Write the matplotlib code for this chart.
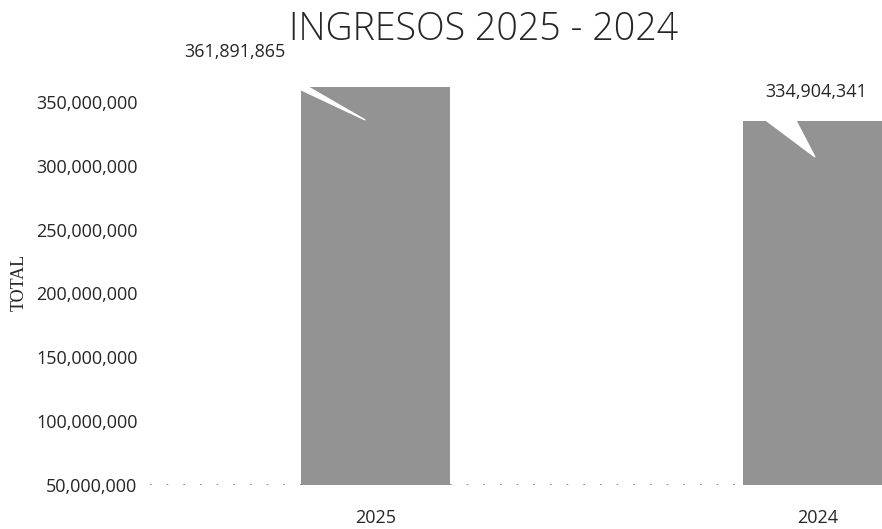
import matplotlib
matplotlib.use("Agg")
import matplotlib.pyplot as plt
from matplotlib.ticker import FuncFormatter

# data
years = ["2025", "2024"]
totals = [361891865, 334904341]
y_ticks = [50000000, 100000000, 150000000, 200000000, 250000000, 300000000, 350000000]

plt.rcParams['font.family'] = ['Open Sans', 'DejaVu Sans']
text_col = "#262626"
bar_col = "#939393"

fig = plt.figure(figsize=(8.82, 5.29), dpi=100)
ax = fig.add_axes([0.17, 0.083, 0.83, 0.766])

x = list(range(len(years)))
ax.bar(x, totals, width=0.337, color=bar_col, zorder=2)

ax.set_xlim(-0.511, 1.145)
ax.set_ylim(50000000, 367100000)
ax.set_yticks(y_ticks)
ax.yaxis.set_major_formatter(FuncFormatter(lambda v, p: f"{v:,.0f}"))
ax.set_xticks(x)
ax.set_xticklabels(years)
ax.tick_params(axis="y", length=0, pad=9, labelsize=13, labelcolor=text_col)
ax.tick_params(axis="x", length=0, pad=17, labelsize=13, labelcolor=text_col)

for s in ax.spines.values():
    s.set_visible(False)
# dotted baseline
ax.axhline(y_ticks[0], color="#777777", lw=1.2, ls=(0, (1, 9)), zorder=1)

ax.set_ylabel("TOTAL", family="Liberation Serif", fontsize=13, color=text_col, labelpad=6)

# data labels
label_pos = [(-0.319, 27.2e6), (0.995, 22.9e6)]
for i, v in enumerate(totals):
    dx, dy = label_pos[i]
    ax.text(dx, v + dy, f"{v:,}", ha="center", va="center", fontsize=13,
            color=text_col, clip_on=False, zorder=4)

# white leader wedges of the callouts (tail, tip, tail width)
wedges = [((-0.319, 27.2e6), (-0.025, -26e6), 0.45),
          ((0.868, 22.9e6), (0.993, -28e6), 1.4)]
for i, v in enumerate(totals):
    (ax0, ay0), (ax1, ay1), tw = wedges[i]
    ax.annotate("", xy=(ax1, v + ay1), xytext=(ax0, v + ay0),
                annotation_clip=False, zorder=3,
                arrowprops=dict(arrowstyle=f"wedge,tail_width={tw},shrink_factor=0.5",
                                color="white", shrinkA=0, shrinkB=0,
                                mutation_scale=20))

fig.text(0.548, 0.943, "INGRESOS 2025 - 2024", ha="center", va="center",
         fontsize=27, fontweight="light", color=text_col)

plt.savefig("out.png", dpi=100)
